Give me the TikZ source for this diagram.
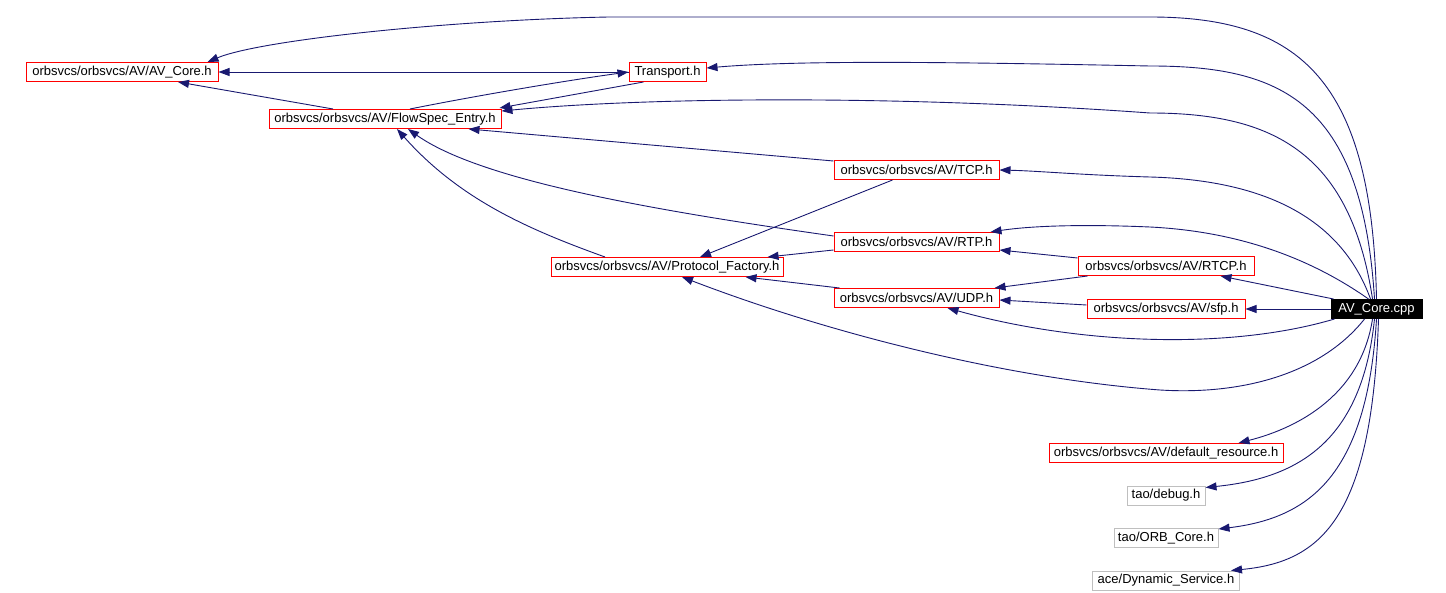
\documentclass[tikz,border=0pt]{standalone}
\usepackage{fontspec}
\setmainfont{Liberation Sans}
\usetikzlibrary{arrows.meta}
\definecolor{edgecol}{HTML}{191970}
\begin{document}
\begin{tikzpicture}[x=1pt,y=-1pt,
  box/.style={draw=red, line width=1pt, inner xsep=3pt, inner ysep=0pt, minimum height=19pt, font=\fontsize{13}{14}\selectfont, text=black, fill=white},
  gbox/.style={box, draw=black!25},
  mainbox/.style={box, fill=black, draw=black, text=white},
  edge/.style={draw=edgecol, line width=0.9pt, -{Triangle[length=11pt,width=8pt]}}]
\useasboundingbox (0,0) rectangle (1446,593);
% nodes
\node[box, minimum width=192] (avcore) at (122,72) {orbsvcs/orbsvcs/AV/AV\_Core.h};
\node[box, minimum width=77] (transport) at (667.5,72) {Transport.h};
\node[box, minimum width=232] (flowspec) at (385,119) {orbsvcs/orbsvcs/AV/FlowSpec\_Entry.h};
\node[box, minimum width=165] (tcp) at (916.5,170) {orbsvcs/orbsvcs/AV/TCP.h};
\node[box, minimum width=165] (rtp) at (916.5,242) {orbsvcs/orbsvcs/AV/RTP.h};
\node[box, minimum width=232] (pf) at (667,267) {orbsvcs/orbsvcs/AV/Protocol\_Factory.h};
\node[box, minimum width=176] (rtcp) at (1166,266) {orbsvcs/orbsvcs/AV/RTCP.h};
\node[box, minimum width=165] (udp) at (916.5,298) {orbsvcs/orbsvcs/AV/UDP.h};
\node[box, minimum width=158] (sfp) at (1166,309) {orbsvcs/orbsvcs/AV/sfp.h};
\node[mainbox, minimum width=91] (cpp) at (1376.5,309) {AV\_Core.cpp};
\node[box, minimum width=234] (defres) at (1166,453) {orbsvcs/orbsvcs/AV/default\_resource.h};
\node[gbox, minimum width=78] (debug) at (1166,495.5) {tao/debug.h};
\node[gbox, minimum width=104] (orb) at (1166,538) {tao/ORB\_Core.h};
\node[gbox, minimum width=147] (dyn) at (1166,580.5) {ace/Dynamic\_Service.h};
% edges from AV_Core.cpp
\draw[edge] (cpp.north) .. controls (1372,80) and (1300,17) .. (1150,17) -- (609,17) .. controls (450,20) and (260,40) .. ([xshift=-11]avcore.north east);
\draw[edge] ([xshift=-2]cpp.north) .. controls (1362,100) and (1280,66) .. (1150,66) .. controls (950,62) and (800,60) .. ([yshift=4]transport.east);
\draw[edge] ([xshift=-4]cpp.north) .. controls (1350,150) and (1270,113) .. (1150,113) .. controls (900,95) and (650,97) .. ([yshift=-2]flowspec.north east);
\draw[edge] ([xshift=-6]cpp.north) .. controls (1340,215) and (1260,180) .. (1150,177) .. controls (1080,175) and (1040,171) .. (tcp.east);
\draw[edge] ([xshift=-8]cpp.north) .. controls (1320,265) and (1250,232) .. (1150,227) .. controls (1080,224) and (1030,226) .. ([xshift=-9]rtp.north east);
\draw[edge] ([xshift=3]cpp.north west) -- ([xshift=-34]rtcp.south east);
\draw[edge] (cpp.west) -- (sfp.east);
\draw[edge] ([xshift=4]cpp.south west) .. controls (1230,350) and (1080,345) .. ([xshift=-52]udp.south east);
\draw[edge] ([xshift=-12]cpp.south) .. controls (1320,375) and (1240,395) .. (1160,390) .. controls (1000,378) and (820,330) .. ([xshift=15]pf.south);
\draw[edge] ([xshift=-4]cpp.south) .. controls (1360,400) and (1290,430) .. ([xshift=-45]defres.north east);
\draw[edge] ([xshift=-2]cpp.south) .. controls (1362,440) and (1300,478) .. ([yshift=-2]debug.north east);
\draw[edge] (cpp.south) .. controls (1367,475) and (1310,518) .. ([yshift=-1]orb.north east);
\draw[edge] ([xshift=2]cpp.south) .. controls (1372,520) and (1320,562) .. ([xshift=-9]dyn.north east);
% other edges
\draw[edge] (transport.west) -- (avcore.east);
\draw[edge] ([xshift=-52]flowspec.north) -- ([xshift=56]avcore.south);
\draw[edge] ([xshift=25]flowspec.north) .. controls (480,95) and (570,80) .. (transport.west);
\draw[edge] ([xshift=-24]transport.south) -- ([xshift=-2,yshift=1]flowspec.north east);
\draw[edge] ([yshift=-1]tcp.north west) -- ([xshift=-33]flowspec.south east);
\draw[edge] ([yshift=6]rtp.west) .. controls (650,210) and (480,180) .. ([xshift=23]flowspec.south);
\draw[edge] ([xshift=-62]pf.north) .. controls (530,230) and (460,200) .. ([xshift=12]flowspec.south);
\draw[edge] ([xshift=-24]tcp.south) -- ([xshift=33]pf.north);
\draw[edge] ([yshift=-8]rtp.west) -- ([xshift=-16]pf.north east);
\draw[edge] ([xshift=6]udp.north west) -- ([xshift=-38]pf.south east);
\draw[edge] ([yshift=8]rtcp.west) -- ([yshift=-8]rtp.east);
\draw[edge] ([xshift=10]rtcp.south west) -- ([xshift=-5]udp.north east);
\draw[edge] ([yshift=4]sfp.west) -- ([yshift=-2]udp.east);
\end{tikzpicture}
\end{document}
